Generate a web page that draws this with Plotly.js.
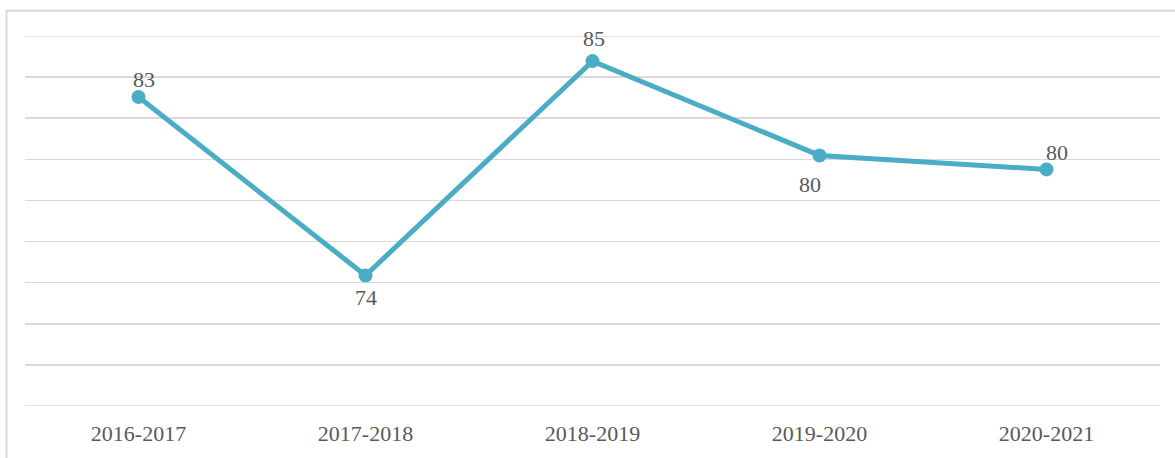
<!DOCTYPE html>
<html>
<head>
<meta charset="utf-8">
<script src="https://cdn.plot.ly/plotly-3.0.1.min.js"></script>
<style>html,body{margin:0;padding:0;background:#fff;}#chart{width:1175px;height:458px;}</style>
</head>
<body>
<div id="chart"></div>
<script>
const categories = ["2016-2017", "2017-2018", "2018-2019", "2019-2020", "2020-2021"];
const values = [83.03, 74.35, 84.78, 80.19, 79.51];
// label offsets (pixels) relative to each point: style only
const labelDx = [5, 0, 1, -10, 10];
const labelDy = [18, -22.5, 23, -29, 16.5];

const FONT = "Liberation Serif, Times New Roman, serif";
const GRID = "#d9d9d9";

const trace = {
  x: categories,
  y: values,
  type: "scatter",
  mode: "lines+markers",
  line: {color: "#4bacc6", width: 5},
  marker: {color: "#4bacc6", size: 14},
  cliponaxis: false,
  hoverinfo: "skip"
};

const annotations = categories.map((c, i) => ({
  x: c, y: values[i], xref: "x", yref: "y",
  text: String(Math.round(values[i])),
  showarrow: false,
  xanchor: "center", yanchor: "middle",
  xshift: labelDx[i], yshift: labelDy[i],
  font: {family: FONT, size: 22, color: "#595959"}
}));

const pw = 1135;
const ph = 370;
function px2paperX(px){ return (px - 25) / pw; }
function px2paperY(py){ return (405.7 - py) / ph; }

const layout = {
  width: 1175,
  height: 458,
  margin: {l: 25, r: 15, t: 35.7, b: 52.3},
  paper_bgcolor: "#ffffff",
  plot_bgcolor: "#ffffff",
  showlegend: false,
  font: {family: FONT, size: 22, color: "#595959"},
  xaxis: {
    type: "category",
    range: [-0.5, 4.5],
    showgrid: false,
    zeroline: false,
    showline: false,
    ticks: "",
    ticklabelstandoff: 12,
    tickfont: {family: FONT, size: 22, color: "#595959"},
    fixedrange: true
  },
  yaxis: {
    range: [68, 86],
    dtick: 2,
    tick0: 68,
    showgrid: true,
    gridcolor: GRID,
    gridwidth: 1.6,
    zeroline: false,
    showline: false,
    showticklabels: false,
    ticks: "",
    fixedrange: true
  },
  annotations: annotations,
  shapes: [
    {type: "line", xref: "paper", yref: "y", x0: 0, x1: 1, y0: 86, y1: 86, layer: "below", line: {color: GRID, width: 1.6}},
    {type: "line", xref: "paper", yref: "y", x0: 0, x1: 1, y0: 68, y1: 68, layer: "below", line: {color: GRID, width: 1.6}},
    {type: "line", xref: "paper", yref: "paper", x0: px2paperX(6), x1: px2paperX(1180), y0: px2paperY(10.5), y1: px2paperY(10.5), line: {color: GRID, width: 2}},
    {type: "line", xref: "paper", yref: "paper", x0: px2paperX(6.5), x1: px2paperX(6.5), y0: px2paperY(10), y1: px2paperY(470), line: {color: GRID, width: 2}}
  ]
};

Plotly.newPlot("chart", [trace], layout, {displayModeBar: false, staticPlot: true});
</script>
</body>
</html>
